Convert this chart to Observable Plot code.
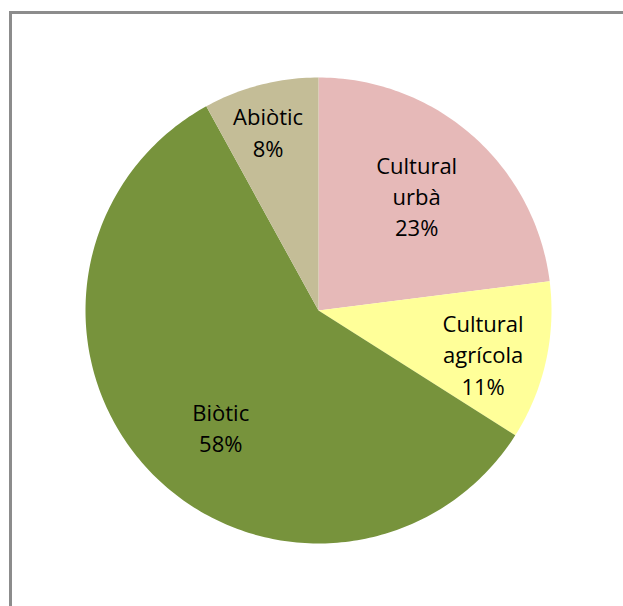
<!DOCTYPE html>
<html>
<head>
<meta charset="utf-8">
<script src="https://cdn.jsdelivr.net/npm/d3@7"></script>
<script src="https://cdn.jsdelivr.net/npm/@observablehq/plot@0.6"></script>
<style>
  html, body { margin: 0; padding: 0; background: #fff; }
  #wrap { position: relative; width: 623px; height: 606px; overflow: hidden; }
  #frame { position: absolute; left: 9px; top: 11px; right: -10px; bottom: -10px;
           border-left: 3px solid #8c8c8c; border-top: 3px solid #8c8c8c; pointer-events: none; }
</style>
</head>
<body>
<div id="wrap"><div id="frame"></div></div>
<script>
// ---- data ----
const categories = ["Cultural\nurbà", "Cultural\nagrícola", "Biòtic", "Abiòtic"];
const values = [23, 11, 58, 8];
const colors = ["#E6B9B8", "#FFFF99", "#77933C", "#C4BD97"];

// ---- label placement (radial fraction, angle offset in degrees) ----
const labelPlace = [
  {r: 0.65, da: -1.0},
  {r: 0.73, da: 2.0},
  {r: 0.65, da: -6.6},
  {r: 0.80, da: -1.3}
];

const total = d3.sum(values);
const pie = d3.pie().sort(null).value(d => d)(values);

function pt(a, r) { return [r * Math.sin(a), -r * Math.cos(a)]; }

const features = pie.map((p, i) => {
  const n = Math.max(4, Math.ceil((p.endAngle - p.startAngle) / (2 * Math.PI) * 360));
  const ring = [[0, 0]];
  for (let k = 0; k <= n; k++) {
    const a = p.startAngle + (p.endAngle - p.startAngle) * k / n;
    ring.push(pt(a, 1));
  }
  ring.push([0, 0]);
  return {type: "Feature", properties: {name: categories[i]}, geometry: {type: "Polygon", coordinates: [ring]}};
});

const labels = pie.map((p, i) => {
  const mid = (p.startAngle + p.endAngle) / 2 + labelPlace[i].da * Math.PI / 180;
  const [x, y] = pt(mid, labelPlace[i].r);
  return {x, y, text: categories[i] + "\n" + Math.round(values[i] / total * 100) + "%"};
});

const domain = {type: "Polygon", coordinates: [[[-1, -1], [1, -1], [1, 1], [-1, 1], [-1, -1]]]};

const chart = Plot.plot({
  width: 623,
  height: 606,
  marginLeft: 85,
  marginRight: 72,
  marginTop: 77,
  marginBottom: 63,
  projection: {type: "identity", domain},
  color: {domain: categories, range: colors},
  style: {fontFamily: "'Open Sans', sans-serif", background: "transparent"},
  marks: [
    Plot.geo(features, {fill: d => d.properties.name, stroke: "none"}),
    Plot.text(labels, {x: "x", y: "y", text: "text", fontSize: 22, lineHeight: 1.42, fill: "#000", textAnchor: "middle"})
  ]
});
chart.style.position = "absolute";
chart.style.left = "0";
chart.style.top = "0";
document.getElementById("wrap").appendChild(chart);
</script>
</body>
</html>
